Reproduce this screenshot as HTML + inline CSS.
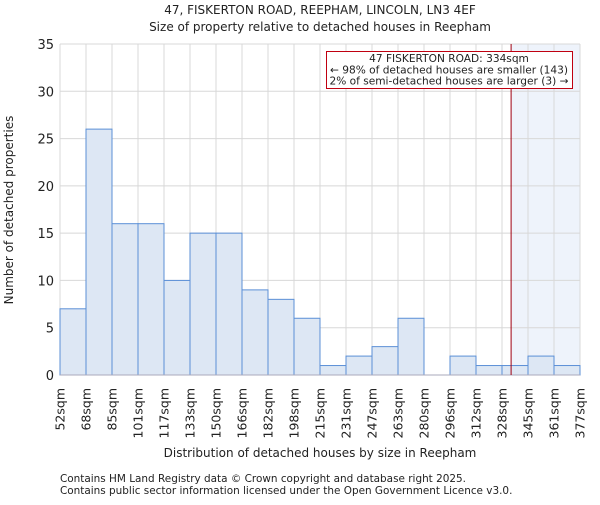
<!DOCTYPE html>
<html><head><meta charset="utf-8"><style>
body{margin:0;background:#fff}
text{font-family:"DejaVu Sans","Liberation Sans",sans-serif;fill:#222}
</style></head><body>
<svg id="c" width="600" height="500" xmlns="http://www.w3.org/2000/svg">
<text x="320" y="14" text-anchor="middle" font-size="12">47, FISKERTON ROAD, REEPHAM, LINCOLN, LN3 4EF</text>
<text x="320" y="31" text-anchor="middle" font-size="12">Size of property relative to detached houses in Reepham</text>
<g id="grid"></g>
<g id="bars"></g>
<g id="axes"></g>
<text x="320" y="457" text-anchor="middle" font-size="12">Distribution of detached houses by size in Reepham</text>
<text transform="translate(13,210) rotate(-90)" text-anchor="middle" font-size="12">Number of detached properties</text>
<text x="60" y="482" font-size="10.45" fill="#444">Contains HM Land Registry data © Crown copyright and database right 2025.</text>
<text x="60" y="494" font-size="10.45" fill="#444">Contains public sector information licensed under the Open Government Licence v3.0.</text>
</svg>
<script>
const binLabels=["52sqm","68sqm","85sqm","101sqm","117sqm","133sqm","150sqm","166sqm","182sqm","198sqm","215sqm","231sqm","247sqm","263sqm","280sqm","296sqm","312sqm","328sqm","345sqm","361sqm","377sqm"];
const counts=[7,26,16,16,10,15,15,9,8,6,1,2,3,6,0,2,1,1,2,1];
const yTicks=[0,5,10,15,20,25,30,35];
const propertyIndex=17.35;
const ns="http://www.w3.org/2000/svg";
const L=60,R=580,T=44,B=375,yMax=35;
const bw=(R-L)/counts.length;
const xs=i=>L+i*bw;
const ys=v=>B-(B-T)*v/yMax;
function mk(t,a,p){const e=document.createElementNS(ns,t);for(const k in a)e.setAttribute(k,a[k]);p.appendChild(e);return e;}
const grid=document.getElementById('grid'),bars=document.getElementById('bars'),axes=document.getElementById('axes');
const px=xs(propertyIndex);
const sh=mk('rect',{x:px,y:T,width:R-px,height:B-T,fill:'#eef3fb'},grid);


yTicks.forEach(v=>{
 const l=mk('line',{x1:L,x2:R,y1:ys(v),y2:ys(v),stroke:'#d8d8d8'},grid);
 
 
 const t=mk('text',{x:L-6,y:ys(v)+5,'text-anchor':'end','font-size':'13'},axes);
 t.textContent=v;
 
 
});
binLabels.forEach((s,i)=>{
 const l=mk('line',{x1:xs(i),x2:xs(i),y1:T,y2:B,stroke:'#d8d8d8'},grid);
 
 
 const t=mk('text',{transform:`translate(${xs(i)+4.5},388) rotate(-90)`,'text-anchor':'end','font-size':'12.5'},axes);
 t.textContent=s;
 
 
});
counts.forEach((v,i)=>{
 const r=mk('rect',{x:xs(i),y:ys(v),width:bw,height:B-ys(v),fill:'#dde7f4',stroke:'#5b8fd6','stroke-width':1},bars);
 
 
});
const ax=mk('line',{x1:L,x2:R,y1:B,y2:B,stroke:'#aab',"stroke-width":1},axes);


const ml=mk('line',{x1:px,x2:px,y1:T,y2:B,stroke:'#a00010','stroke-width':1},axes);


const g=mk('g',{},axes);


mk('rect',{x:326.5,y:51.5,width:246,height:37,fill:'#fff',stroke:'#c00010'},g);
[["47 FISKERTON ROAD: 334sqm",62],["← 98% of detached houses are smaller (143)",73.5],["2% of semi-detached houses are larger (3) →",84.5]].forEach(a=>{
 const t=mk('text',{x:449,y:a[1],'text-anchor':'middle','font-size':'10.6'},g);
 t.textContent=a[0];
 
 
});
</script>
</body></html>
